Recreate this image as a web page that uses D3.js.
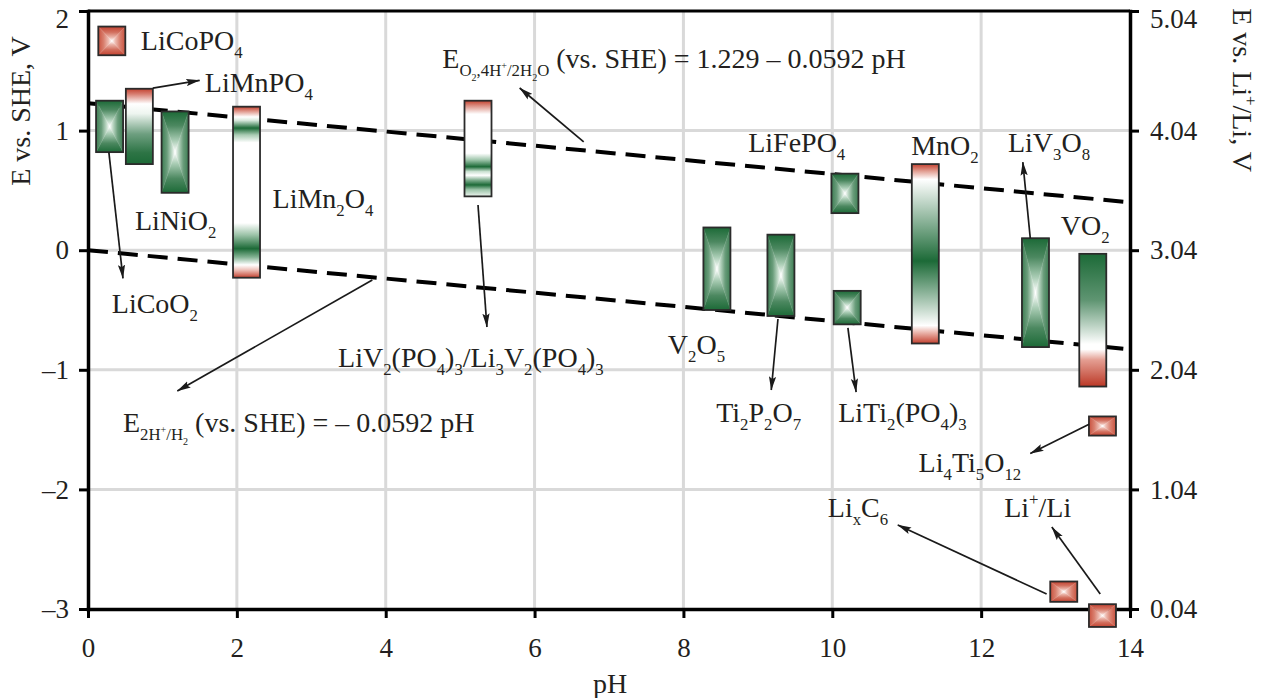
<!DOCTYPE html>
<html>
<head>
<meta charset="utf-8">
<script src="https://cdn.jsdelivr.net/npm/d3@7"></script>
<style>
  html, body { margin: 0; padding: 0; background: #ffffff; }
  svg { display: block; }
  text { font-family: "Liberation Serif", "Times New Roman", serif; fill: #231f20; }
</style>
</head>
<body>
<svg id="chart" width="1265" height="698"></svg>
<script>
// ---- Electrode materials: potential window (E vs. SHE, V) and pH position ----
const materials  = ["LiCoPO4", "LiMnPO4", "LiCoO2", "LiNiO2", "LiMn2O4", "LiV2(PO4)3",
                    "V2O5", "Ti2P2O7", "LiFePO4", "LiTi2(PO4)3", "MnO2", "LiV3O8",
                    "VO2", "Li4Ti5O12", "LixC6", "Li+/Li"];
const materialPH = [0.32, 0.69, 0.29, 1.17, 2.13, 5.24,
                    8.45, 9.31, 10.17, 10.20, 11.25, 12.73,
                    13.50, 13.63, 13.11, 13.63];
const eUpper     = [1.87, 1.35, 1.25, 1.16, 1.20, 1.25,
                    0.19, 0.13, 0.64, -0.34, 0.72, 0.10,
                    -0.03, -1.39, -2.77, -2.96];
const eLower     = [1.63, 0.72, 0.82, 0.48, -0.23, 0.45,
                    -0.50, -0.55, 0.31, -0.62, -0.78, -0.81,
                    -1.14, -1.55, -2.94, -3.15];

// ---- Water stability window: O2 evolution and H2 evolution lines ----
const waterPH   = [0, 14];
const oxygenE   = [1.229, 0.400];
const hydrogenE = [0, -0.829];

// ---- Axis ticks ----
const phTicks  = [0, 2, 4, 6, 8, 10, 12, 14];
const sheTicks = [-3, -2, -1, 0, 1, 2];
const liTicks  = [0.04, 1.04, 2.04, 3.04, 4.04, 5.04];

// ---- Annotation labels (markup: _{sub}, ^{sup}) anchored in data units ----
const labelText = ["LiCoPO_{4}", "LiMnPO_{4}", "LiNiO_{2}", "LiMn_{2}O_{4}", "LiCoO_{2}",
                   "E_{O_{2},4H^{+}/2H_{2}O} (vs. SHE) = 1.229 – 0.0592 pH",
                   "LiV_{2}(PO_{4})_{3}/Li_{3}V_{2}(PO_{4})_{3}",
                   "E_{2H^{+}/H_{2}} (vs. SHE) = – 0.0592 pH",
                   "LiFePO_{4}", "MnO_{2}", "LiV_{3}O_{8}", "VO_{2}", "V_{2}O_{5}",
                   "Ti_{2}P_{2}O_{7}", "LiTi_{2}(PO_{4})_{3}", "Li_{4}Ti_{5}O_{12}",
                   "Li_{x}C_{6}", "Li^{+}/Li"];
const labelPH = [0.71, 1.57, 0.63, 2.48, 0.32, 4.76, 3.36, 0.47, 8.87, 11.06, 12.36, 13.07,
                 7.79, 8.44, 10.08, 11.16, 9.94, 12.31];
const labelE  = [1.674, 1.323, 0.169, 0.353, -0.525, 1.524, -0.976, -1.52, 0.821, 0.796, 0.821,
                 0.127, -0.867, -1.436, -1.436, -1.854, -2.23, -2.23];

// ---- Annotation arrows (from -> to), data units ----
const arrowFromPH = [0.87, 0.28, 6.66, 5.24, 3.82, 12.66, 9.27, 10.21, 13.45, 12.88, 13.60];
const arrowFromE  = [1.355, 0.82, 0.905, 0.378, -0.25, 0.10, -0.575, -0.65, -1.456, -2.875, -2.875];
const arrowToPH   = [1.50, 0.47, 5.80, 5.36, 1.20, 12.56, 9.18, 10.32, 12.66, 10.88, 12.95];
const arrowToE    = [1.42, -0.235, 1.356, -0.642, -1.177, 0.737, -1.169, -1.186, -1.70, -2.298, -2.315];

// ---- Fill styles ----
const RED = "#c3412f", WHITE = "#ffffff", GREEN = "#1c6a37";
const barFill = {
  "LiCoPO4": "box-red", "LiMnPO4": "grad-limnpo4", "LiCoO2": "box-green", "LiNiO2": "box-green",
  "LiMn2O4": "grad-limn2o4", "LiV2(PO4)3": "grad-liv2", "V2O5": "box-green", "Ti2P2O7": "box-green",
  "LiFePO4": "box-green", "LiTi2(PO4)3": "box-green", "MnO2": "grad-mno2", "LiV3O8": "box-green",
  "VO2": "grad-vo2", "Li4Ti5O12": "box-red", "LixC6": "box-red", "Li+/Li": "box-red"
};
const verticalStops = {
  "grad-limnpo4": [[0, RED], [0.07, "#d77d70"], [0.2, WHITE], [0.33, "#eef5f0"], [0.6, "#6e9f80"], [0.85, "#2d7445"], [1, GREEN]],
  "grad-limn2o4": [[0, RED], [0.03, "#e3a196"], [0.06, WHITE], [0.08, "#d8e9dd"], [0.125, GREEN], [0.165, "#a9cbb3"], [0.21, WHITE],
                   [0.68, WHITE], [0.75, "#9cc3a8"], [0.83, GREEN], [0.88, "#84b394"], [0.925, WHITE], [0.955, "#edc0b8"], [1, RED]],
  "grad-liv2":    [[0, RED], [0.05, "#d98a7e"], [0.14, WHITE], [0.55, WHITE], [0.62, "#9cc4a9"], [0.69, GREEN], [0.74, "#c9e0d0"],
                   [0.78, WHITE], [0.83, "#7fae8f"], [0.88, GREEN], [0.93, "#9cc4a9"], [1, "#eef5f0"]],
  "grad-mno2":    [[0, RED], [0.04, "#e2a094"], [0.085, WHITE], [0.54, GREEN], [0.9, WHITE], [0.94, "#eab3aa"], [1, RED]],
  "grad-vo2":     [[0, GREEN], [0.35, "#5f9572"], [0.68, WHITE], [0.72, WHITE], [0.8, "#e49e92"], [1, "#bb3826"]]
};
// Box fills: vertical faces run from a dark edge, side faces from a softer edge, both to a white centre
const pyramidStops = {
  "box-green": { v: [[0, GREEN], [0.35, "#4c8860"], [0.72, "#aacdb5"], [1, WHITE]],
                 h: [[0, "#3d7d53"], [0.4, "#6a9d7b"], [0.75, "#bcd7c4"], [1, WHITE]] },
  "box-red":   { v: [[0, RED], [0.4, "#d2705f"], [0.75, "#ebb5aa"], [1, WHITE]],
                 h: [[0, "#c9513e"], [0.4, "#d9806f"], [0.75, "#eebdb3"], [1, WHITE]] }
};

// ---- Layout ----
const plot = { left: 88, right: 1130, top: 11, bottom: 609 };
const barWidth = 27;
const fontMain = 28, fontTick = 27;

const svg = d3.select("#chart");
const x   = d3.scaleLinear().domain([0, 14]).range([plot.left, plot.right]);
const y   = d3.scaleLinear().domain([-3, 2]).range([plot.bottom, plot.top]);
const yLi = d3.scaleLinear().domain([0.04, 5.04]).range([plot.bottom, plot.top]);

const defs = svg.append("defs");
function addGradient(id, stops, x1, y1, x2, y2) {
  const g = defs.append("linearGradient").attr("id", id)
    .attr("x1", x1).attr("y1", y1).attr("x2", x2).attr("y2", y2);
  g.selectAll("stop").data(stops).join("stop")
    .attr("offset", d => d[0]).attr("stop-color", d => d[1]);
}
Object.entries(verticalStops).forEach(([id, s]) => addGradient(id, s, 0, 0, 0, 1));
Object.entries(pyramidStops).forEach(([id, s]) => {
  addGradient(id + "-t", s.v, 0, 0, 0, 1);
  addGradient(id + "-b", s.v, 0, 1, 0, 0);
  addGradient(id + "-l", s.h, 0, 0, 1, 0);
  addGradient(id + "-r", s.h, 1, 0, 0, 0);
});
defs.append("marker").attr("id", "arrowhead")
  .attr("viewBox", "0 0 14 8").attr("refX", 13.5).attr("refY", 4)
  .attr("markerWidth", 14).attr("markerHeight", 8)
  .attr("markerUnits", "userSpaceOnUse").attr("orient", "auto")
  .append("path").attr("d", "M0,0.4 L14,4 L0,7.6 L2.5,4 Z").attr("fill", "#1a1a1a");

// ---- Rich text with nested sub/superscripts ----
function parseRich(str) {
  const out = [];
  (function walk(s, level) {
    let i = 0, buf = "";
    while (i < s.length) {
      const c = s[i];
      if ((c === "_" || c === "^") && s[i + 1] === "{") {
        if (buf) { out.push({ t: buf, level }); buf = ""; }
        let depth = 0, j = i + 1;
        for (; j < s.length; j++) {
          if (s[j] === "{") depth++;
          else if (s[j] === "}") { depth--; if (depth === 0) break; }
        }
        walk(s.slice(i + 2, j), level.concat(c === "_" ? "sub" : "sup"));
        i = j + 1;
      } else { buf += c; i++; }
    }
    if (buf) out.push({ t: buf, level });
  })(str, []);
  return out;
}
// Relative dy shifts keep the whole string a single text chunk, so anchoring works
function richText(parent, markup, px, py, size, anchor) {
  const t = parent.append("text").attr("x", px).attr("y", py)
    .attr("font-size", size).attr("text-anchor", anchor || "start")
    .style("white-space", "pre");
  let prev = 0;
  parseRich(markup).forEach(seg => {
    let s = size, off = 0;
    seg.level.forEach(l => { off += (l === "sub" ? 0.3 : -0.42) * s; s *= 0.6; });
    t.append("tspan").attr("dy", off - prev).attr("font-size", s).text(seg.t);
    prev = off;
  });
  return t;
}

// ---- Grid ----
const grid = svg.append("g").attr("stroke", "#d9d9d9").attr("stroke-width", 3);
grid.selectAll("line.gv").data(phTicks.filter(d => d > 0 && d < 14)).join("line")
  .attr("x1", d => x(d)).attr("x2", d => x(d)).attr("y1", plot.top).attr("y2", plot.bottom);
grid.selectAll("line.gh").data(sheTicks.filter(d => d > -3 && d < 2)).join("line")
  .attr("x1", plot.left).attr("x2", plot.right).attr("y1", d => y(d)).attr("y2", d => y(d));

// ---- Axes ----
const minusFmt = d => (d < 0 ? "–" + Math.abs(d) : String(d));
function styleAxis(g) {
  g.select(".domain").attr("stroke", "#000").attr("stroke-width", 3.5).attr("stroke-linecap", "square");
  g.selectAll(".tick line").attr("stroke", "#000").attr("stroke-width", 3);
  g.selectAll(".tick text").attr("font-size", fontTick)
    .attr("font-family", "Liberation Serif, Times New Roman, serif").attr("fill", "#231f20");
}
// keep the top-most tick label inside the canvas
function nudgeTopLabel(g, topValue) {
  g.selectAll(".tick").filter(d => d === topValue).select("text").attr("dy", "0.6em");
}
svg.append("g").attr("transform", `translate(0,${plot.bottom})`)
  .call(d3.axisBottom(x).tickValues(phTicks).tickSize(9).tickSizeOuter(0).tickPadding(20).tickFormat(minusFmt))
  .call(styleAxis);
svg.append("g").attr("transform", `translate(${plot.left},0)`)
  .call(d3.axisLeft(y).tickValues(sheTicks).tickSize(9).tickSizeOuter(0).tickPadding(10).tickFormat(minusFmt))
  .call(styleAxis).call(nudgeTopLabel, 2);
svg.append("g").attr("transform", `translate(${plot.right},0)`)
  .call(d3.axisRight(yLi).tickValues(liTicks).tickSize(9).tickSizeOuter(0).tickPadding(11).tickFormat(d3.format(".2f")))
  .call(styleAxis).call(nudgeTopLabel, 5.04);
svg.append("line").attr("x1", plot.left).attr("x2", plot.right)
  .attr("y1", plot.top).attr("y2", plot.top).attr("stroke", "#000").attr("stroke-width", 3);

// Axis titles
richText(svg.append("g").attr("transform", "translate(30,111) rotate(-90)"), "E vs. SHE, V", 0, 0, fontMain, "middle");
richText(svg.append("g").attr("transform", "translate(1233,90) rotate(90)"), "E vs. Li^{+}/Li, V", 0, 0, fontMain, "middle");
richText(svg, "pH", 610, 693, fontMain, "middle");

// ---- Water stability lines ----
const waterLine = d3.line().x(d => x(d[0])).y(d => y(d[1]));
[oxygenE, hydrogenE].forEach(vals => {
  svg.append("path").datum(waterPH.map((p, i) => [p, vals[i]]))
    .attr("d", waterLine).attr("fill", "none").attr("stroke", "#000")
    .attr("stroke-width", 4).attr("stroke-dasharray", "20,10");
});

// ---- Material bars ----
const bars = svg.append("g");
materials.forEach((m, i) => {
  const x0 = x(materialPH[i]) - barWidth / 2;
  const y0 = y(eUpper[i]);
  const h = y(eLower[i]) - y0;
  const fill = barFill[m];
  const g = bars.append("g");
  if (fill.startsWith("box-")) {
    const cx = x0 + barWidth / 2, cy = y0 + h / 2, x1 = x0 + barWidth, y1 = y0 + h;
    const tris = [
      [[x0, y0], [x1, y0], [cx, cy], "t"],
      [[x0, y1], [x1, y1], [cx, cy], "b"],
      [[x0, y0], [x0, y1], [cx, cy], "l"],
      [[x1, y0], [x1, y1], [cx, cy], "r"]
    ];
    tris.forEach(tr => {
      g.append("polygon").attr("points", tr.slice(0, 3).map(p => p.join(",")).join(" "))
        .attr("fill", `url(#${fill}-${tr[3]})`)
        .attr("stroke", `url(#${fill}-${tr[3]})`).attr("stroke-width", 0.4);
    });
  } else {
    g.append("rect").attr("x", x0).attr("y", y0).attr("width", barWidth).attr("height", h)
      .attr("fill", `url(#${fill})`);
  }
  g.append("rect").attr("x", x0).attr("y", y0).attr("width", barWidth).attr("height", h)
    .attr("fill", "none").attr("stroke", "#2b2b2b").attr("stroke-width", 1.8);
});

// ---- Arrows ----
svg.append("g").selectAll("line").data(arrowFromPH.map((_, i) => i)).join("line")
  .attr("x1", i => x(arrowFromPH[i])).attr("y1", i => y(arrowFromE[i]))
  .attr("x2", i => x(arrowToPH[i])).attr("y2", i => y(arrowToE[i]))
  .attr("stroke", "#1a1a1a").attr("stroke-width", 1.7)
  .attr("marker-end", "url(#arrowhead)");

// ---- Labels ----
const labels = svg.append("g");
labelText.forEach((t, i) => richText(labels, t, x(labelPH[i]), y(labelE[i]), fontMain, "start"));
</script>
</body>
</html>
